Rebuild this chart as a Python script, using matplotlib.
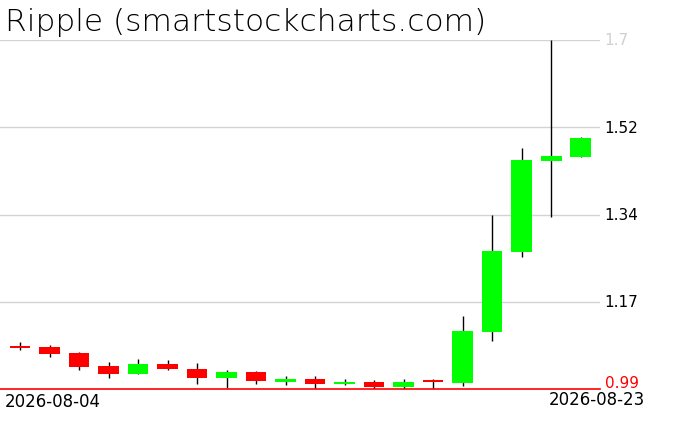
import matplotlib
matplotlib.use("Agg")
from matplotlib import pyplot as plt

# Ripple daily candles, 2026-08-04 .. 2026-08-23
dates = ["2026-08-04", "2026-08-05", "2026-08-06", "2026-08-07", "2026-08-08",
         "2026-08-09", "2026-08-10", "2026-08-11", "2026-08-12", "2026-08-13",
         "2026-08-14", "2026-08-15", "2026-08-16", "2026-08-17", "2026-08-18",
         "2026-08-19", "2026-08-20", "2026-08-21", "2026-08-22", "2026-08-23"]
opens = [1.0775, 1.0754, 1.0632, 1.0368, 1.0205, 1.0409, 1.0307, 1.0130, 1.0246, 1.0049,
         1.0103, 1.0008, 1.0042, 0.9947, 1.0042, 1.0028, 1.1066, 1.2693, 1.4545, 1.4626]
highs = [1.0856, 1.0801, 1.0647, 1.0449, 1.0510, 1.0484, 1.0429, 1.0280, 1.0266, 1.0171,
         1.0164, 1.0103, 1.0083, 1.0103, 1.0103, 1.1385, 1.3446, 1.4797, 1.7006, 1.5033]
lows = [1.0693, 1.0557, 1.0293, 1.0130, 1.0195, 1.0293, 1.0008, 0.9926, 1.0008, 0.9987,
        0.9900, 0.9987, 0.9906, 0.9906, 0.9906, 0.9967, 1.0883, 1.2592, 1.3405, 1.4626]
closes = [1.0734, 1.0612, 1.0354, 1.0211, 1.0409, 1.0313, 1.0130, 1.0246, 1.0069, 1.0103,
          1.0008, 1.0042, 0.9947, 1.0042, 1.0038, 1.1080, 1.2714, 1.4559, 1.4640, 1.5006]

y_ticks = [0.99, 1.1675, 1.345, 1.5225, 1.70]
y_labels = ["0.99", "1.17", "1.34", "1.52", "1.7"]
y_colors = ["red", "black", "black", "black", "#d0d0d0"]

W, H = 676, 431
fig = plt.figure(figsize=(W / 100, H / 100), dpi=100)
ax = fig.add_axes([0, (H - 390) / H, 600 / W, 349 / H])

ymin, ymax = 0.99, 1.70
ax.set_ylim(ymin, ymax)
ax.set_xlim(-0.678, 19.66)
for s in ax.spines.values():
    s.set_visible(False)
ax.set_xticks([])
ax.set_yticks([])

# grid lines
for v in y_ticks[1:]:
    ax.axhline(v, color="#d3d3d3", lw=1, zorder=0)
ax.axhline(ymin, color="red", lw=1.2, zorder=3, clip_on=False)

# candles
body_w = 0.71
for i in range(len(dates)):
    o, h, l, c = opens[i], highs[i], lows[i], closes[i]
    col = "#00ff00" if c >= o else "#ff0000"
    ax.vlines(i, l, h, color="black", lw=1, zorder=1)
    bottom = min(o, c)
    height = max(abs(c - o), 0.004)
    ax.bar(i, height, bottom=bottom, width=body_w, color=col, edgecolor="none", zorder=2)

# y labels at the right (0.99 sits just above the red line)
for v, lab, colr in zip(y_ticks, y_labels, y_colors):
    if lab == "0.99":
        fig.text(605 / W, 1 - 391 / H, lab, color=colr, fontsize=11, ha="left", va="bottom")
    else:
        ax.text(1.008, v, lab, color=colr, fontsize=11, ha="left", va="center",
                transform=ax.get_yaxis_transform(), clip_on=False)

fig.text(5 / W, 1 - 31 / H, "Ripple (smartstockcharts.com)", fontsize=22.5,
         ha="left", va="baseline", color="black", fontweight="light")
fig.text(5 / W, 1 - 393 / H, dates[0], fontsize=12, ha="left", va="top")
fig.text(645 / W, 1 - 391 / H, dates[-1], fontsize=12, ha="right", va="top")

fig.savefig("out.png", dpi=100)
